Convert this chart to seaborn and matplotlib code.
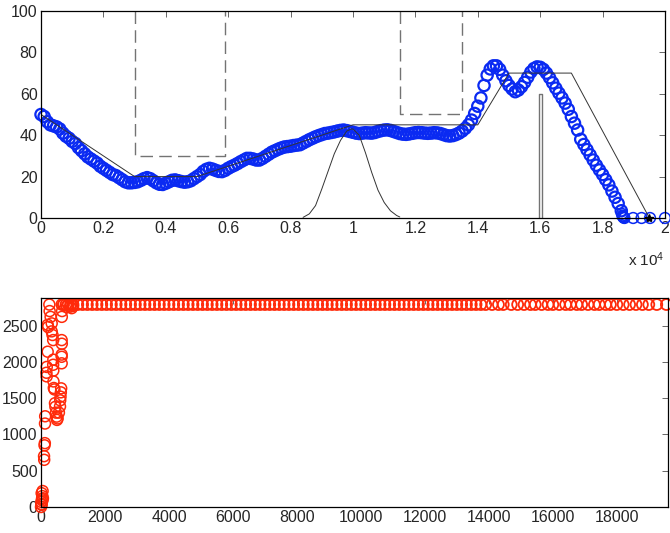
import numpy as np
import seaborn as sns
import matplotlib
matplotlib.use("Agg")
import matplotlib.pyplot as plt
from matplotlib import ticker

# ---- top panel data (x in metres, shown as x 10^4) ----
# blue trajectory, one sample every 100 along x
blue_step = 100
blue_y = [50, 49, 46.5, 45, 44.5, 44, 43, 41, 39.5, 38.5,
          37, 36, 34, 32.5, 31, 29.5, 28.5, 27.5, 26.5, 25,
          24, 23, 22, 21, 20.5, 19.5, 18.5, 17.5, 17, 17,
          17.2, 17.5, 18.2, 19, 19.5, 19, 18, 17, 16.3, 16.2,
          16.8, 17.5, 18.2, 18.4, 18, 17.6, 17.3, 17.5, 18, 19,
          20, 21, 22.5, 23.5, 24, 23.6, 23, 22.5, 22.4, 23,
          24, 24.8, 25.5, 26.3, 27.2, 28, 28.8, 28.8, 28.5, 28,
          28, 28.8, 29.8, 30.8, 31.8, 32.5, 33.2, 33.8, 34.3, 34.5,
          34.7, 35, 35.2, 35.4, 36.2, 37, 37.8, 38.5, 39.2, 39.8,
          40.3, 40.8, 41, 41.3, 41.6, 42, 42.3, 42.5, 42.2, 41.8,
          41.4, 41, 40.8, 41, 41.2, 41.1, 41, 41.3, 41.8, 42.2,
          42.5, 42.6, 42.3, 41.8, 41.3, 40.8, 40.5, 40.4, 40.6, 40.9,
          41.2, 41.3, 41.2, 41, 40.9, 41, 41.2, 41.1, 40.8, 40.3,
          39.8, 39.6, 39.8, 40.3, 41, 42, 43.3, 45, 47.3, 50.5,
          54, 58, 64, 69, 72, 73.5, 73.5, 71.8, 69, 66.3,
          64, 62.3, 61, 61.8, 63.4, 65.5, 68, 70.5, 72.2, 73,
          72.8, 71.8, 70, 67.8, 65.3, 62.7, 60.3, 58, 55.5, 52.5,
          49, 45.8, 42.5, 38, 35.5, 33, 30.5, 28, 25.5, 23.2,
          21, 18.5, 16, 13, 10, 7, 3.5]
blue_tail_x = [18620, 18640, 18650, 18660, 18680, 18700, 18980, 19250, 19520, 20000]
blue_tail_y = [2, 1.2, 0.8, 0.5, 0.2, 0, 0, 0, 0, 0]

# upper limit profile (thin black line)
limit_x = [0, 3000, 5000, 10000, 14000, 15000, 17000, 19500]
limit_y = [50, 20, 20, 45, 45, 70, 70, 0]

# bump (thin black line)
bump_x = [8400, 8600, 8800, 9000, 9200, 9400, 9600, 9800, 9950,
          10000, 10200, 10400, 10600, 10800, 11000, 11200, 11400, 11500]
bump_y = [0.3, 2, 6, 14, 22.5, 31, 37.5, 42, 43,
          43, 40, 31.5, 22, 13.5, 7.5, 3.5, 1.2, 0.5]

# dashed zones (x from, x to, lower edge)
zones = [(3000, 5900, 30), (11500, 13500, 50)]
# narrow obstacle
post_x = [15950, 15950, 16050, 16050]
post_y = [0, 60, 60, 0]
goal = (19500, 0)

# ---- bottom panel data ----
red_x = [0, 20, 10, 30, 40, 20, 50, 60, 15, 45,
         100, 95, 110, 120, 125, 130, 178, 180, 170, 209,
         210, 220, 260, 270, 300, 334, 334, 360, 380, 385,
         380, 385, 390, 400, 420, 437, 450, 470, 490, 500,
         520, 560, 594, 600, 610, 620, 630, 646, 646, 646,
         650, 646, 650, 660, 646, 700, 800, 906, 960, 1000]
red_y = [0, 30, 70, 110, 150, 190, 220, 120, 40, 90,
         650, 700, 850, 880, 1150, 1250, 1800, 1930, 1850, 2140,
         2510, 2480, 2790, 2700, 2620, 2530, 2420, 2370, 2300, 2030,
         1960, 1880, 1730, 1640, 1620, 1430, 1380, 1300, 1245, 1200,
         1220, 1300, 1385, 1470, 1520, 1580, 1635, 1980, 2070, 2100,
         2250, 2300, 2620, 2700, 2790, 2790, 2760, 2760, 2740, 2770]
plateau_level = 2790
plateau_x = [700, 780, 850, 930, 1000, 1150, 1300, 1450, 1600, 1750, 1900, 2050,
             2200, 2350, 2500, 2650, 2800, 2950, 3100, 3250, 3400, 3550,
             3700, 3850, 4000, 4150, 4300, 4450, 4600, 4750, 4900, 5050,
             5200, 5350, 5500, 5650, 5800, 5950, 6100, 6250, 6400, 6550,
             6700, 6850, 7000, 7150, 7300, 7450, 7600, 7750, 7900, 8050,
             8200, 8350, 8500, 8650, 8800, 8950, 9100, 9250, 9400, 9550,
             9700, 9850, 10000, 10150, 10300, 10450, 10600, 10750, 10900, 11050,
             11200, 11350, 11500, 11650, 11800, 11950, 12100, 12250, 12400, 12550,
             12700, 12850, 13000, 13150, 13300, 13450, 13600, 13750, 13900, 14100,
             14300, 14450, 14700, 14900, 15100, 15300, 15450, 15650, 15850, 16000,
             16200, 16400, 16550, 16750, 16900, 17100, 17300, 17450, 17650, 17800,
             18000, 18200, 18400, 18600, 18800, 19000, 19250, 19550]

BLUE = '#0a2af2'
RED = '#ff2a0a'

sns.set_style('white')
plt.rcParams['font.family'] = ['Liberation Sans', 'DejaVu Sans']
plt.rcParams['mathtext.default'] = 'regular'

fig = plt.figure(figsize=(6.7, 5.33), dpi=100)
ax1 = fig.add_axes([0.0612, 0.591, 0.9313, 0.3884])
ax2 = fig.add_axes([0.0612, 0.0488, 0.9358, 0.3921])

# top panel
for x0, x1, low in zones:
    ax1.plot([x0, x0, x1, x1], [100, low, low, 100], color='0.45',
             linestyle=(0, (9, 4.5)), lw=1.0)
ax1.plot(post_x, post_y, color='0.45', lw=1.0)
ax1.plot(limit_x, limit_y, color='0.2', lw=0.7)
ax1.plot(bump_x, bump_y, color='0.2', lw=0.7)

blue_x = np.arange(len(blue_y)) * blue_step
mk = dict(marker='o', facecolors='none', clip_on=False)
sns.scatterplot(x=blue_x, y=blue_y, ax=ax1, edgecolor=BLUE, s=66, linewidth=1.6, **mk)
sns.scatterplot(x=blue_tail_x, y=blue_tail_y, ax=ax1, edgecolor=BLUE, s=60,
                linewidth=1.1, **mk)
ax1.plot(*goal, marker='*', color='k', ms=6, clip_on=False)

ax1.set_xlim(0, 20000)
ax1.set_ylim(0, 100)
ax1.set_xticks(np.arange(0, 20001, 2000))
ax1.set_yticks([0, 20, 40, 60, 80, 100])
ax1.xaxis.set_major_formatter(ticker.FuncFormatter(lambda v, p: f'{v / 1e4:g}'))
ax1.text(1.0, -0.2, 'x 10$^{4}$', transform=ax1.transAxes, ha='right',
         va='center', fontsize=11)

# bottom panel
sns.scatterplot(x=red_x, y=red_y, ax=ax2, edgecolor=RED, s=62, linewidth=1.1, **mk)
sns.scatterplot(x=plateau_x, y=[plateau_level] * len(plateau_x), ax=ax2,
                edgecolor=RED, s=62, linewidth=1.3, **mk)
ax2.set_xlim(0, 19600)
ax2.set_ylim(0, 2880)
ax2.set_xticks(np.arange(0, 18001, 2000))
ax2.set_yticks([0, 500, 1000, 1500, 2000, 2500])

for ax in (ax1, ax2):
    ax.tick_params(direction='in', length=4, width=0.6, top=True, right=True,
                   labelsize=11.5, pad=2.5, color='0.3')
    for sp in ax.spines.values():
        sp.set_linewidth(0.9)
        sp.set_color('k')
        sp.set_visible(True)
    ax.set_xlabel('')
    ax.set_ylabel('')

fig.savefig('out.png', dpi=100)
